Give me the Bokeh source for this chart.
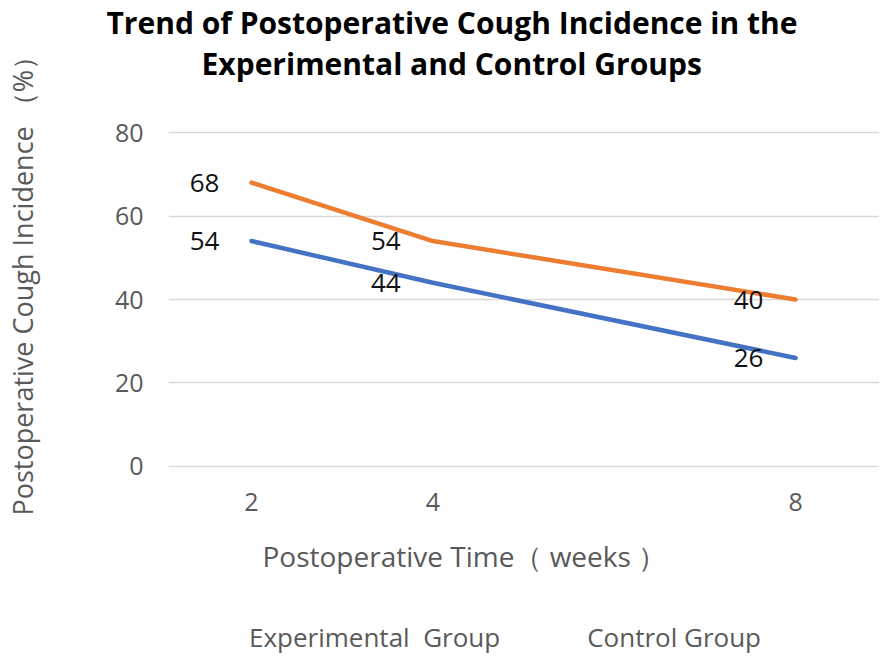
from bokeh.plotting import figure
from bokeh.layouts import column
from bokeh.models import (ColumnDataSource, LabelSet, Legend, LegendItem, Range1d,
                          FixedTicker, Title)
from bokeh.embed import file_html
from bokeh.resources import INLINE
from bokeh.core.properties import value

weeks = [2, 4, 8]
experimental = [54, 44, 26]
control = [68, 54, 40]
x_ticks = [2, 4, 8]
y_ticks = [0, 20, 40, 60, 80]
title_lines = ["Trend of Postoperative Cough Incidence in the",
               "Experimental and Control Groups"]
x_label = "Postoperative Time（ weeks ）"
y_label = "\u2003\u2002Postoperative Cough Incidence （%）"
series_names = ["Experimental  Group", "Control Group"]

BLUE = "#4472C4"
ORANGE = "#ED7D31"
FONT = "Open Sans"
GREY = "#595959"

p = figure(frame_width=711, frame_height=336, output_backend="svg",
           toolbar_location=None, title=None,
           x_range=Range1d(1.0846, 8.926), y_range=Range1d(-0.25, 80.25),
           min_border_left=157, min_border_right=0, min_border_top=125,
           min_border_bottom=140)
p.outline_line_color = None

# titles stacked above the frame (first added sits nearest the frame)
spacer = Title(text=" ", text_font=FONT, text_font_size="10px", standoff=33)
t2 = Title(text=title_lines[1], align="left", offset=33, text_font=FONT,
           text_font_style="bold", text_font_size="30px", text_color="#000000",
           standoff=-2)
t1 = Title(text=title_lines[0], align="left", offset=-62, text_font=FONT,
           text_font_style="bold", text_font_size="30px", text_color="#000000",
           standoff=-2)
p.add_layout(spacer, "above")
p.add_layout(t2, "above")
p.add_layout(t1, "above")

p.xgrid.visible = False
p.ygrid.grid_line_color = "#D9D9D9"
p.ygrid.grid_line_width = 1.3
p.ygrid.ticker = FixedTicker(ticks=y_ticks)

for ax in (p.xaxis[0], p.yaxis[0]):
    ax.axis_line_color = None
    ax.major_tick_line_color = None
    ax.minor_tick_line_color = None
    ax.major_label_text_font = FONT
    ax.major_label_text_font_size = "25px"
    ax.major_label_text_color = GREY
p.xaxis.ticker = FixedTicker(ticks=x_ticks)
p.yaxis.ticker = FixedTicker(ticks=y_ticks)
p.xaxis.major_label_standoff = 19
p.yaxis.major_label_standoff = 19

p.yaxis.axis_label = y_label
p.yaxis.axis_label_text_font = FONT
p.yaxis.axis_label_text_font_size = "27px"
p.yaxis.axis_label_text_font_style = "normal"
p.yaxis.axis_label_text_color = GREY
p.yaxis.axis_label_standoff = 71

xt = Title(text=x_label, align="left", offset=94, text_font=FONT,
           text_font_size="28px", text_font_style="normal", text_color=GREY,
           standoff=42)
p.add_layout(xt, "below")

src = ColumnDataSource(dict(x=weeks, e=experimental, c=control,
                            el=[str(v) for v in experimental],
                            cl=[str(v) for v in control]))
p.line("x", "e", source=src, line_color=BLUE, line_width=4.5, line_cap="round")
p.line("x", "c", source=src, line_color=ORANGE, line_width=4.5, line_cap="round")

for col, lab in (("e", "el"), ("c", "cl")):
    ls = LabelSet(x="x", y=col, text=lab, source=src, x_offset=-47,
                  text_align="center", text_baseline="middle",
                  text_font=value(FONT), text_font_size="26px", text_color="#111111")
    p.add_layout(ls)

# ---- legend strip below the chart ----
lf = figure(width=868, height=50, output_backend="svg", toolbar_location=None,
            title=None, x_range=Range1d(0, 1), y_range=Range1d(0, 1),
            x_axis_type=None, y_axis_type=None,
            min_border_left=157, min_border_right=0, min_border_top=0,
            min_border_bottom=0)
lf.outline_line_color = None
lf.xgrid.visible = False
lf.ygrid.visible = False
proxy_e = lf.line(x=[], y=[], line_color=BLUE, line_width=5, line_cap="round")
proxy_c = lf.line(x=[], y=[], line_color=ORANGE, line_width=5, line_cap="round")

legend = Legend(items=[LegendItem(label=series_names[0], renderers=[proxy_e]),
                       LegendItem(label=series_names[1], renderers=[proxy_c])],
                orientation="horizontal", location=(0, 2))
legend.border_line_color = None
legend.background_fill_alpha = 0
legend.glyph_width = 72
legend.glyph_height = 30
legend.label_standoff = 9
legend.spacing = 6
legend.padding = 0
legend.margin = 0
legend.label_text_font = FONT
legend.label_text_font_size = "26px"
legend.label_text_color = GREY
lf.add_layout(legend, "center")

layout = column(p, lf, spacing=0)
open("out.html", "w").write(file_html(layout, INLINE))
